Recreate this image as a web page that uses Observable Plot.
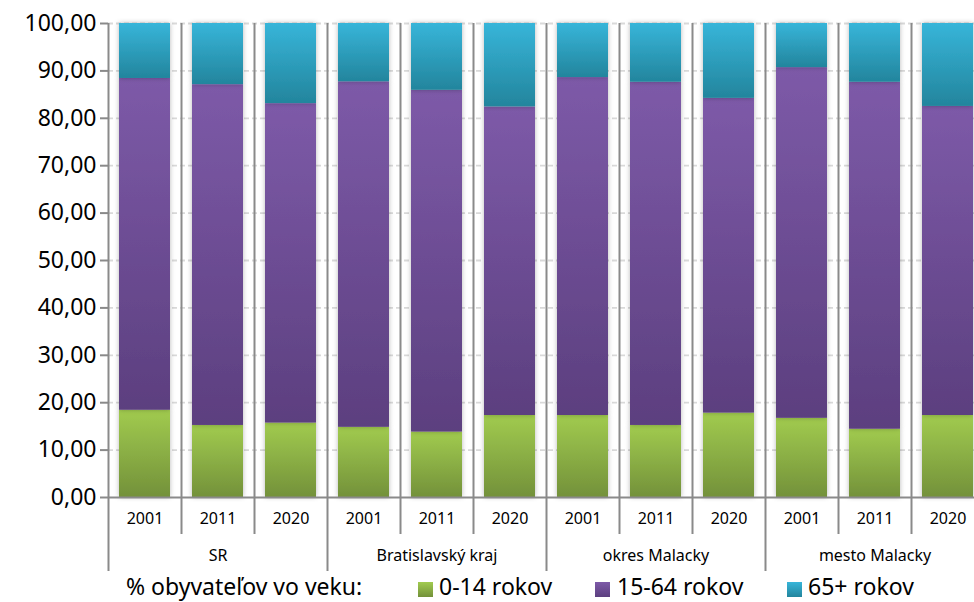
<!DOCTYPE html>
<html><head><meta charset="utf-8">
<script src="https://cdn.jsdelivr.net/npm/d3@7"></script>
<script src="https://cdn.jsdelivr.net/npm/@observablehq/plot@0.6"></script>
<style>
html,body{margin:0;padding:0;background:#fff;overflow:hidden;}
#wrap{position:relative;width:974px;height:602px;font-family:"Noto Sans",sans-serif;}
#legend{position:absolute;left:0;top:0;width:974px;height:602px;pointer-events:none;}
#legend span{position:absolute;white-space:nowrap;font-size:23px;line-height:23px;color:#000;}
#legend .sw{width:15px;height:15px;}
</style></head><body>
<div id="wrap"><div id="chart"></div><div id="legend"></div></div>
<script>
// ---- data ----
const groups = ["SR", "Bratislavský kraj", "okres Malacky", "mesto Malacky"];
const years = ["2001", "2011", "2020"];
const ageGroups = ["0-14 rokov", "15-64 rokov", "65+ rokov"];
// shares (%) for each bar, in order group x year
const young   = [18.4, 15.2, 15.7,  14.8, 13.8, 17.3,  17.3, 15.2, 17.8,  16.7, 14.4, 17.3];
const working = [70.0, 71.9, 67.4,  72.9, 72.1, 65.1,  71.3, 72.4, 66.4,  74.0, 73.2, 65.2];
const old     = [11.6, 12.9, 16.9,  12.3, 14.1, 17.6,  11.4, 12.4, 15.8,   9.3, 12.4, 17.5];
const yTicks = [0, 10, 20, 30, 40, 50, 60, 70, 80, 90, 100];
const legendTitle = "% obyvateľov vo veku:";

// ---- build table ----
const series = [young, working, old];
const bars = [];
groups.forEach((g, gi) => years.forEach((yr, yi) => bars.push({i: gi * years.length + yi, group: g, year: yr})));
const rows = [];
bars.forEach(b => {
  let acc = 0;
  series.forEach((s, k) => {
    const v = s[b.i];
    rows.push({i: b.i, i1: b.i + 1, age: ageGroups[k], y1: acc, y2: acc + v});
    acc += v;
  });
});
const nBars = bars.length;
const boundaries = d3.range(0, nBars + 1);
const groupBounds = boundaries.filter(d => d % years.length === 0);
const innerBounds = boundaries.filter(d => d % years.length !== 0);
const groupCenters = groups.map((g, gi) => ({g, c: gi * years.length + years.length / 2}));

const gradIds = ["gYoung", "gWork", "gOld"];
const gradStops = [["#a1cb4f", "#73913a"], ["#7d5aa8", "#5c3f7f"], ["#37b5d9", "#23859d"]];
const axisGray = "#8a8a8a";

const barMark = k => Plot.rectY(rows.filter(r => r.age === ageGroups[k]), {
  x1: "i", x2: "i1", y1: "y1", y2: "y2",
  insetLeft: 11, insetRight: 11,
  fill: `url(#${gradIds[k]})`
});

const chart = Plot.plot({
  width: 974,
  height: 576,
  marginTop: 23,
  marginBottom: 79,
  marginLeft: 108,
  marginRight: 0,
  style: {fontFamily: "Noto Sans", fontSize: "23px", color: axisGray, background: "#fff"},
  x: {type: "linear", domain: [0, nBars], range: [108, 984], axis: null},
  y: {domain: [0, 100], ticks: yTicks, tickSize: 8, tickPadding: 4, label: null,
      tickFormat: d => d.toFixed(2).replace(".", ",")},
  marks: [
    Plot.ruleY(yTicks.filter(d => d > 0), {stroke: "#d9d9d9", strokeWidth: 1.8, strokeDasharray: "5,3"}),
    barMark(0), barMark(1), barMark(2),
    Plot.ruleX(innerBounds, {stroke: axisGray, strokeWidth: 2, insetBottom: -37}),
    Plot.ruleX(groupBounds, {stroke: axisGray, strokeWidth: 2, insetBottom: -74}),
    Plot.ruleY([0], {stroke: axisGray, strokeWidth: 2}),
    Plot.text(bars, {x: d => d.i + 0.5, text: "year", frameAnchor: "bottom", dy: 26, fontSize: 16, fill: "#000"}),
    Plot.text(groupCenters, {x: "c", text: "g", frameAnchor: "bottom", dy: 63, fontSize: 16, fill: "#000"})
  ]
});

const svg = d3.select(chart);
const defs = svg.insert("defs", ":first-child");
gradIds.forEach((id, k) => {
  const lg = defs.append("linearGradient").attr("id", id).attr("x1", 0).attr("y1", 0).attr("x2", 0).attr("y2", 1);
  lg.append("stop").attr("offset", "0%").attr("stop-color", gradStops[k][0]);
  lg.append("stop").attr("offset", "100%").attr("stop-color", gradStops[k][1]);
});
const f = defs.append("filter").attr("id", "shadow").attr("x", "-20%").attr("y", "-5%").attr("width", "140%").attr("height", "110%");
f.append("feDropShadow").attr("dx", 0).attr("dy", 0).attr("stdDeviation", 2.5).attr("flood-color", "#000").attr("flood-opacity", 0.28);
svg.selectAll('g[aria-label="rect"]').attr("filter", "url(#shadow)");
svg.selectAll('[aria-label^="y-axis"] text').attr("fill", "#000");
svg.selectAll('[aria-label^="y-axis"] line, [aria-label^="y-axis"] path').attr("stroke", axisGray).attr("stroke-width", 2);
document.getElementById("chart").appendChild(chart);

// ---- legend (HTML, below the svg) ----
const legend = d3.select("#legend");
legend.append("span").style("left", "126px").style("top", "575px").text(legendTitle);
const swX = [418, 595, 787];
const txX = [439, 617, 808];
ageGroups.forEach((a, k) => {
  legend.append("span").attr("class", "sw").style("left", swX[k] + "px").style("top", "582px")
    .style("background", `linear-gradient(${gradStops[k][0]}, ${gradStops[k][1]})`);
  legend.append("span").style("left", txX[k] + "px").style("top", "575px").text(a);
});
</script>
</body></html>
